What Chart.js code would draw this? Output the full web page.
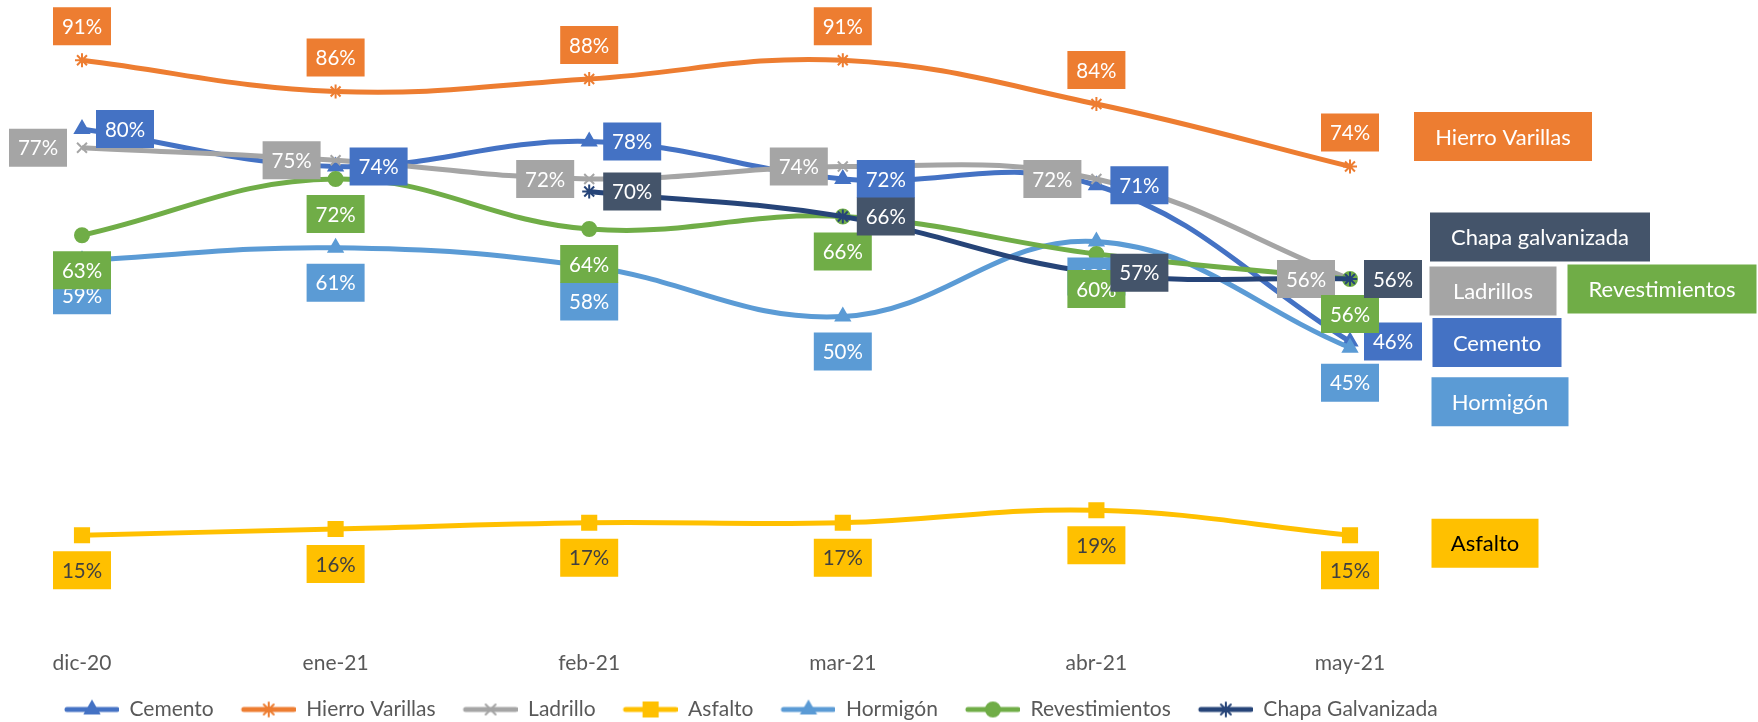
<!DOCTYPE html>
<html><head><meta charset="utf-8">
<script src="https://cdn.jsdelivr.net/npm/chart.js@4.4.1/dist/chart.umd.min.js"></script>
<style>html,body{margin:0;padding:0;background:#fff;overflow:hidden}</style>
</head><body>
<canvas id="c" width="1758" height="722" style="width:1758px;height:722px;display:block"></canvas>
<script>
// ---- data ----
const categories = ['dic-20', 'ene-21', 'feb-21', 'mar-21', 'abr-21', 'may-21'];
const seriesNames = ['Cemento', 'Hierro Varillas', 'Ladrillo', 'Asfalto', 'Hormigón', 'Revestimientos', 'Chapa Galvanizada'];
const endLabels = ['Cemento', 'Hierro Varillas', 'Ladrillos', 'Asfalto', 'Hormigón', 'Revestimientos', 'Chapa galvanizada'];
const cemento = [80, 74, 78, 72, 71, 46];
const hierroVarillas = [91, 86, 88, 91, 84, 74];
const ladrillo = [77, 75, 72, 74, 72, 56];
const asfalto = [15, 16, 17, 17, 19, 15];
const hormigon = [59, 61, 58, 50, 62, 45];
const revestimientos = [63, 72, 64, 66, 60, 56];
const chapaGalvanizada = [null, null, 70, 66, 57, 56];
const seriesValues = [cemento, hierroVarillas, ladrillo, asfalto, hormigon, revestimientos, chapaGalvanizada];

// ---- styles ----
const FONT = 'Lato';
const styles = [
  {color:'#4472C4', bg:'#4472C4', fg:'#FFFFFF', point:'triangle', r:8, pos:'right', name:{dx:147, dy:1,   w:129, h:49, fg:'#FFFFFF'}},
  {color:'#ED7D31', bg:'#ED7D31', fg:'#FFFFFF', point:'star',     r:7, pos:'above', name:{dx:153, dy:-30, w:178, h:49, fg:'#FFFFFF'}},
  {color:'#A5A5A5', bg:'#A5A5A5', fg:'#FFFFFF', point:'crossRot', r:7, pos:'left',  name:{dx:143, dy:12,  w:127, h:49, fg:'#FFFFFF'}},
  {color:'#FFC000', bg:'#FFC000', fg:'#404040', point:'rect',     r:10,pos:'below', name:{dx:135, dy:8,   w:107, h:49, fg:'#000000'}},
  {color:'#5B9BD5', bg:'#5B9BD5', fg:'#FFFFFF', point:'triangle', r:8, pos:'below', name:{dx:150, dy:54,  w:137, h:49, fg:'#FFFFFF'}},
  {color:'#70AD47', bg:'#70AD47', fg:'#FFFFFF', point:'circle',   r:7, pos:'below', name:{dx:312, dy:10,  w:189, h:49, fg:'#FFFFFF'}},
  {color:'#264478', bg:'#44546A', fg:'#FFFFFF', point:'star',     r:7, pos:'right', name:{dx:190, dy:-42, w:220, h:49, fg:'#FFFFFF'}}
];
const LBL = {w:58, h:38, above:-34, below:35, right:43, left:-44};

function legendImage(st){
  const c = document.createElement('canvas');
  c.width = 80; c.height = 22;
  const g = c.getContext('2d');
  g.strokeStyle = st.color; g.lineWidth = 5; g.lineCap = 'round';
  g.beginPath(); g.moveTo(28, 11); g.lineTo(78, 11); g.stroke();
  g.fillStyle = st.color; g.strokeStyle = st.color; g.lineWidth = 2;
  Chart.helpers.drawPoint(g, {pointStyle: st.point, radius: st.r, rotation: 0, borderWidth: 2}, 53, 11);
  return c;
}

const labelPlugin = {
  id: 'valueLabels',
  afterDatasetsDraw(chart){
    const ctx = chart.ctx;
    ctx.save();
    ctx.textAlign = 'center';
    ctx.textBaseline = 'middle';
    ctx.font = '20.5px ' + FONT;
    chart.data.datasets.forEach((ds, i) => {
      const meta = chart.getDatasetMeta(i);
      const st = styles[i];
      meta.data.forEach((pt, j) => {
        const v = ds.data[j];
        if (v === null || v === undefined) return;
        let x = pt.x, y = pt.y;
        if (st.pos === 'above') y += LBL.above;
        else if (st.pos === 'below') y += LBL.below;
        else if (st.pos === 'right') x += LBL.right;
        else x += LBL.left;
        ctx.fillStyle = st.bg;
        ctx.fillRect(x - LBL.w/2, y - LBL.h/2, LBL.w, LBL.h);
        ctx.fillStyle = st.fg;
        ctx.fillText(v + '%', x, y + 1);
      });
    });
    // series name boxes at the end of each line
    ctx.font = '22px ' + FONT;
    chart.data.datasets.forEach((ds, i) => {
      const meta = chart.getDatasetMeta(i);
      const last = meta.data[meta.data.length - 1];
      const n = styles[i].name;
      const cx = last.x + n.dx, cy = last.y + n.dy;
      ctx.fillStyle = styles[i].bg;
      ctx.fillRect(cx - n.w/2, cy - n.h/2, n.w, n.h);
      ctx.fillStyle = n.fg;
      ctx.fillText(endLabels[i], cx, cy + 1);
    });
    ctx.restore();
  }
};

function build(){
  const datasets = seriesValues.map((vals, i) => {
    const st = styles[i];
    return {
      label: seriesNames[i],
      data: vals,
      borderColor: st.color,
      backgroundColor: st.color,
      borderWidth: 5,
      tension: 0.4,
      pointStyle: st.point,
      pointRadius: st.r,
      pointBorderWidth: 2,
      pointBackgroundColor: st.color,
      pointBorderColor: st.color,
      spanGaps: false,
      order: seriesValues.length - i,
      yAxisID: 'y'
    };
  });
  const legendImgs = styles.map(legendImage);
  new Chart(document.getElementById('c'), {
    type: 'line',
    data: { labels: categories, datasets },
    plugins: [labelPlugin],
    options: {
      responsive: false,
      animation: false,
      layout: { autoPadding: false, padding: { top: 4, left: 37, right: 0, bottom: 0 } },
      plugins: {
        tooltip: { enabled: false },
        legend: {
          position: 'bottom',
          align: 'start',
          maxHeight: 25,
          labels: {
            usePointStyle: true,
            pointStyleWidth: 80,
            padding: 2,
            color: '#595959',
            font: { family: FONT, size: 21 },
            generateLabels: () => seriesNames.map((n, i) => ({
              text: n, datasetIndex: i, pointStyle: legendImgs[i],
              fillStyle: styles[i].color, strokeStyle: styles[i].color, lineWidth: 0, hidden: false, fontColor: '#595959'
            }))
          }
        }
      },
      scales: {
        x: {
          type: 'category',
          offset: false,
          grid: { display: false },
          border: { display: false },
          ticks: { color: '#595959', font: { family: FONT, size: 21 }, padding: 14, maxRotation: 0, autoSkip: false },
          afterFit(s){ s.height = 68; }
        },
        y: {
          min: 0, max: 100,
          grid: { display: false },
          border: { display: false },
          ticks: { display: false },
          afterFit(s){ s.width = 45; }
        },
        yR: {
          position: 'right',
          min: 0, max: 100,
          grid: { display: false },
          border: { display: false },
          ticks: { display: false },
          afterFit(s){ s.width = 408; }
        }
      }
    }
  });
}
if (document.fonts && document.fonts.load) {
  document.fonts.load('20px ' + FONT).then(build, build);
} else { build(); }
</script>
</body></html>
